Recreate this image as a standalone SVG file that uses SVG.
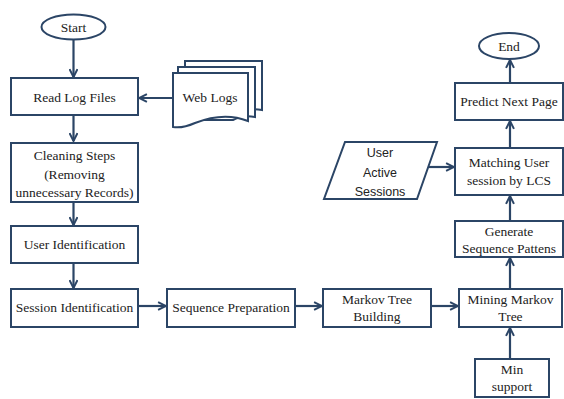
<svg xmlns="http://www.w3.org/2000/svg" width="564" height="399" viewBox="0 0 564 399">
<defs>
<style>
.box{fill:#fff;stroke:#2b4566;stroke-width:2}
.t{font-family:'Liberation Serif','DejaVu Serif','Times New Roman',serif;font-size:13.5px;fill:#222;text-anchor:middle}
.s{font-family:'Liberation Sans','DejaVu Sans',Arial,sans-serif;font-size:12.5px;fill:#222;text-anchor:middle}
.c{fill:none;stroke:#2b4566;stroke-width:2.2;marker-end:url(#ah)}
</style>
<marker id="ah" viewBox="0 0 10 10" refX="9" refY="5" markerWidth="4.5" markerHeight="4.5" orient="auto" markerUnits="strokeWidth">
<path d="M1,1 L9,5 L1,9" fill="none" stroke="#2b4566" stroke-width="2"/>
</marker>
</defs>
<rect width="564" height="399" fill="#fff"/>
<g id="connectors">
<line class="c" x1="73.5" y1="40" x2="73.5" y2="77"/>
<line class="c" x1="173" y1="98" x2="139" y2="98"/>
<line class="c" x1="73.5" y1="115" x2="73.5" y2="141"/>
<line class="c" x1="73.5" y1="202" x2="73.5" y2="225"/>
<line class="c" x1="73.5" y1="263" x2="73.5" y2="288"/>
<line class="c" x1="138" y1="306" x2="166" y2="306"/>
<line class="c" x1="295" y1="306" x2="322" y2="306"/>
<line class="c" x1="431" y1="306" x2="458" y2="306"/>
<line class="c" x1="510" y1="358" x2="510" y2="328"/>
<line class="c" x1="510" y1="289" x2="510" y2="258"/>
<line class="c" x1="510" y1="220" x2="510" y2="196"/>
<line class="c" x1="429" y1="167" x2="454" y2="167"/>
<line class="c" x1="510" y1="148" x2="510" y2="121"/>
<line class="c" x1="510" y1="83" x2="510" y2="60"/>
</g>
<g id="start">
<ellipse class="box" cx="73.5" cy="27" rx="32" ry="12.5"/>
<text class="t" x="73.5" y="32" font-family="Liberation Serif, serif">Start</text>
</g>
<g id="read-log">
<rect class="box" x="11" y="78" width="127" height="37"/>
<text class="t" x="74.5" y="102">Read Log Files</text>
</g>
<g id="web-logs">
<path class="box" d="M185,61 H262 V110 C252,108 247,110 240,113 L185,113 Z"/>
<path class="box" d="M178,67 H255 V117 C245,115 240,117 233,120 L178,120 Z"/>
<path class="box" d="M173,73 H248 V121 C228,113 210,117 195,123 C186,127 179,128 173,127 Z"/>
<text class="t" x="210" y="102">Web Logs</text>
</g>
<g id="cleaning">
<rect class="box" x="11" y="143" width="127" height="59"/>
<text class="t" x="74.5" y="160">Cleaning Steps</text>
<text class="t" x="74.5" y="179">(Removing</text>
<text class="t" x="74.5" y="197">unnecessary Records)</text>
</g>
<g id="user-id">
<rect class="box" x="11" y="226" width="127" height="37"/>
<text class="t" x="74.5" y="249">User Identification</text>
</g>
<g id="session-id">
<rect class="box" x="11" y="289" width="127" height="38"/>
<text class="t" x="74.5" y="312">Session Identification</text>
</g>
<g id="seq-prep">
<rect class="box" x="167" y="289" width="128" height="38"/>
<text class="t" x="231" y="312">Sequence Preparation</text>
</g>
<g id="markov-build">
<rect class="box" x="323" y="289" width="108" height="38"/>
<text class="t" x="377" y="304">Markov Tree</text>
<text class="t" x="377" y="321">Building</text>
</g>
<g id="mining">
<rect class="box" x="459" y="289" width="103" height="38"/>
<text class="t" x="510.5" y="304">Mining Markov</text>
<text class="t" x="510.5" y="321">Tree</text>
</g>
<g id="min-support">
<rect class="box" x="475" y="359" width="74" height="38"/>
<text class="t" x="512" y="374">Min</text>
<text class="t" x="512" y="391">support</text>
</g>
<g id="generate">
<rect class="box" x="455" y="221" width="108" height="36"/>
<text class="t" x="509" y="236">Generate</text>
<text class="t" x="509" y="253">Sequence Pattens</text>
</g>
<g id="matching">
<rect class="box" x="455" y="148" width="108" height="47"/>
<text class="t" x="509" y="167">Matching User</text>
<text class="t" x="509" y="185">session by LCS</text>
</g>
<g id="active-sessions">
<polygon class="box" points="345,142 437,142 417,199 324,199"/>
<text class="s" x="380" y="157">User</text>
<text class="s" x="380" y="177">Active</text>
<text class="s" x="380" y="196">Sessions</text>
</g>
<g id="predict">
<rect class="box" x="455" y="83" width="108" height="37"/>
<text class="t" x="509" y="106">Predict Next Page</text>
</g>
<g id="end">
<ellipse class="box" cx="509" cy="46" rx="30" ry="13"/>
<text class="t" x="509" y="51">End</text>
</g>
</svg>
